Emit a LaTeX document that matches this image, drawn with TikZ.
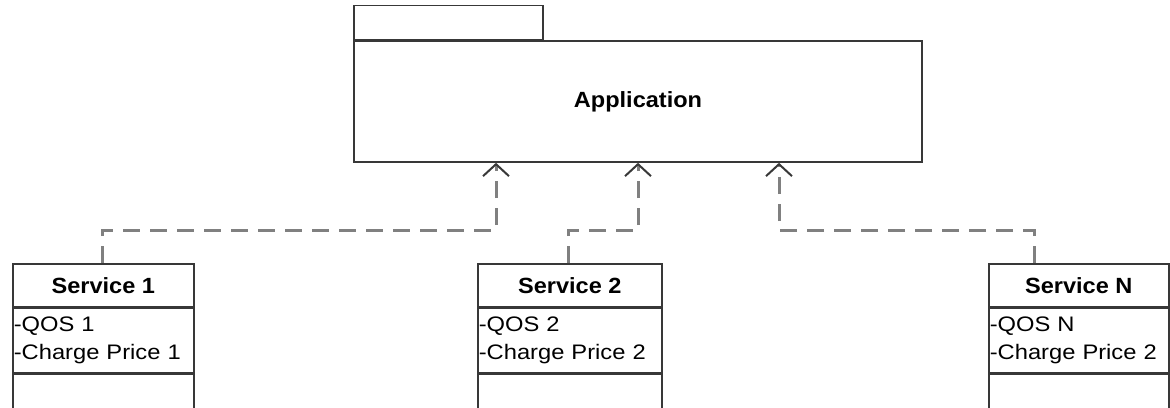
\documentclass[tikz,border=0pt]{standalone}
\usepackage{fontspec}
\setmainfont{Liberation Sans}
\newfontfamily\headfont[FakeStretch=1.07]{Liberation Sans Bold}
\newfontfamily\attrfont[FakeStretch=1.13]{Liberation Sans}
\usetikzlibrary{arrows.meta}
\definecolor{edge}{HTML}{383838}
\definecolor{depline}{HTML}{808080}
\tikzset{
  umlbox/.style={draw=edge, line width=1.6pt, fill=white, rectangle, inner sep=0pt},
  headbox/.style={umlbox, minimum height=43pt, anchor=north west,
    font=\headfont\fontsize{22}{26}\selectfont},
  attrbox/.style={umlbox, minimum height=64pt, anchor=north west, align=left,
    inner xsep=1pt, font=\attrfont\fontsize{21}{28}\selectfont},
  opbox/.style={umlbox, minimum height=60pt, anchor=north west},
  dep/.style={draw=depline, line width=3pt, dash pattern=on 17pt off 10pt,
    -{Straight Barb[length=12pt,width=26pt,color=edge,line width=2pt]}}
}
\begin{document}
\begin{tikzpicture}[x=1pt,y=-1pt]
\useasboundingbox (0,0) rectangle (1170,407);
\clip (0,0) rectangle (1170,407);

% package
\node[umlbox, minimum width=568pt, minimum height=121pt,
  font=\headfont\fontsize{22}{26}\selectfont] (app) at (638,101.5) {Application};
\node[umlbox, minimum width=189pt, minimum height=34pt, anchor=south west]
  (tab) at (app.north west) {};

% services
\node[headbox, minimum width=181pt] (s1h) at (12,263) {Service 1};
\node[attrbox, text width=179pt] (s1a) at (s1h.south west) {-QOS 1\\-Charge Price 1};
\node[opbox, minimum width=181pt] (s1o) at (s1a.south west) {};

\node[headbox, minimum width=184pt] (s2h) at (477,263) {Service 2};
\node[attrbox, text width=182pt] (s2a) at (s2h.south west) {-QOS 2\\-Charge Price 2};
\node[opbox, minimum width=184pt] (s2o) at (s2a.south west) {};

\node[headbox, minimum width=180pt] (snh) at (988,263) {Service N};
\node[attrbox, text width=178pt] (sna) at (snh.south west) {-QOS N\\-Charge Price 2};
\node[opbox, minimum width=180pt] (sno) at (sna.south west) {};

% dependency bends
\coordinate (k1) at (496,230);
\coordinate (k2) at (638,230);
\coordinate (k3) at (779,230);
\coordinate (t1) at (102,263);
\coordinate (t2) at (568,263);
\coordinate (t3) at (1034,263);

\draw[dep] (t1) |- (k1) -- (k1 |- app.south);
\draw[dep] (t2) |- (k2) -- (k2 |- app.south);
\draw[dep] (t3) |- (k3) -- (k3 |- app.south);
\end{tikzpicture}
\end{document}
